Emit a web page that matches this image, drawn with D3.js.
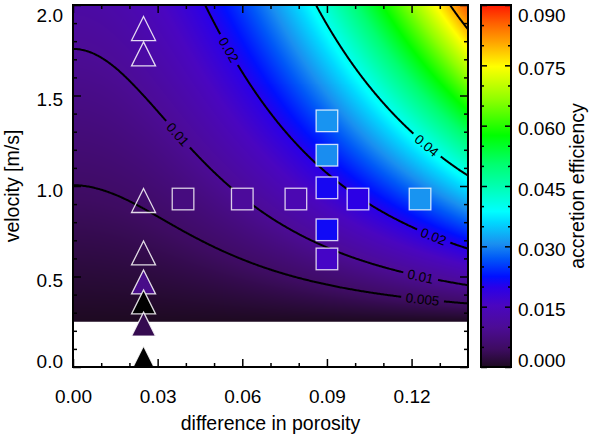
<!DOCTYPE html>
<html><head><meta charset="utf-8">
<script src="https://cdn.jsdelivr.net/npm/d3@7"></script>
<style>
body{margin:0;background:#fff}
svg{display:block}
text{font-family:"Liberation Sans",Arial,Helvetica,sans-serif;fill:#000}
</style>
</head><body>
<svg id="chart" width="598" height="439"></svg>
<script>
// ---------------- data ----------------
const porosityGrid = [0,0.01,0.02,0.03,0.04,0.05,0.06,0.07,0.08,0.09,0.10,0.11,0.12,0.13,0.14];
const velocityGrid = [0.25,0.5,0.75,1.0,1.25,1.5,1.75,2.0];
const effV025 = [0,0,0,0,0,0,0,0,0,0,0,0,0,0,0];
const effV050 = [0.00166,0.00171,0.00188,0.00215,0.00253,0.00303,0.00363,0.00434,0.00516,0.00609,0.00713,0.00828,0.00954,0.0109,0.01238];
const effV075 = [0.00332,0.00343,0.00375,0.00430,0.00507,0.00605,0.00725,0.00868,0.01032,0.01218,0.01426,0.01655,0.01907,0.02180,0.02476];
const effV100 = [0.00497,0.00514,0.00563,0.00645,0.00760,0.00908,0.01088,0.01302,0.01548,0.01827,0.02138,0.02483,0.02860,0.03271,0.03714];
const effV125 = [0.00663,0.00685,0.00751,0.00860,0.01013,0.01210,0.01451,0.01736,0.02064,0.02436,0.02851,0.03311,0.03814,0.04361,0.04952];
const effV150 = [0.00829,0.00856,0.00939,0.01075,0.01267,0.01513,0.01814,0.02169,0.02580,0.03044,0.03564,0.04138,0.04767,0.05451,0.06190];
const effV175 = [0.00995,0.01028,0.01126,0.01291,0.01520,0.01815,0.02176,0.02603,0.03095,0.03653,0.04277,0.04966,0.05721,0.06541,0.07427];
const effV200 = [0.01161,0.01199,0.01314,0.01506,0.01773,0.02118,0.02539,0.03037,0.03611,0.04262,0.04990,0.05793,0.06674,0.07631,0.08665];

const contourLevels = [0.005,0.01,0.02,0.04,0.08];
const contourLabelText = ["0.02","0.01","0.04","0.02","0.01","0.005"];
const contourLabelLevel = [0.02,0.01,0.04,0.02,0.01,0.005];
const contourLabelX = [0.056,0.0375,0.1257,0.128,0.1232,0.1239];
const contourLabelV = [1.76,1.29,1.23,0.73,0.50,0.376];

// triangles (experiments at porosity difference 0.025)
// triKind: "open" = outline only, "black" = no accretion, "fill" = coloured by efficiency
const triX = [0.025,0.025,0.025,0.025,0.025,0.025,0.025,0.025];
const triV = [1.87,1.73,0.92,0.63,0.47,0.36,0.237,0.05];
const triKind = ["open","open","open","open","fill","black","fill","black"];
const triEff = [0,0,0,0,0.0085,0,0.0032,0];
// squares
const sqX = [0.039,0.06,0.079,0.101,0.123,0.09,0.09,0.09,0.09,0.09];
const sqV = [0.928,0.928,0.928,0.928,0.928,1.36,1.17,0.99,0.758,0.597];
const sqEff = [0.0075,0.0105,0.0135,0.0195,0.031,0.031,0.0305,0.021,0.0215,0.016];

const xMajor = [0,0.03,0.06,0.09,0.12];
const xMinor = [0.01,0.02,0.04,0.05,0.07,0.08,0.10,0.11,0.13];
const yMajor = [0,0.5,1.0,1.5,2.0];
const yMinor = [0.1,0.2,0.3,0.4,0.6,0.7,0.8,0.9,1.1,1.2,1.3,1.4,1.6,1.7,1.8,1.9];
const cbMajor = [0,0.015,0.03,0.045,0.06,0.075,0.09];
const cbMinor = [0.005,0.01,0.02,0.025,0.035,0.04,0.05,0.055,0.065,0.07,0.08,0.085];

const cbStopValues = [0,0.0045,0.0099,0.0153,0.0198,0.0225,0.027,0.0306,0.036,0.0387,0.045,0.0504,0.0576,0.0666,0.0747,0.081,0.0855,0.09];
const cbStopColors = ["#1e0a22","#3e0c62","#4c0c96","#4a06c0","#2a00e8","#0010ff","#0058f8","#1a8ff0","#00d8ff","#00ffff","#00ffb0","#00ff70","#00ff00","#90ff00","#ffff00","#ffa000","#ff6000","#ff1800"];

// ---------------- setup ----------------
const effRows = [effV025,effV050,effV075,effV100,effV125,effV150,effV175,effV200];
const svg = d3.select("#chart");
const PL=73, PR=468, PT=5, PB=367;
const x = d3.scaleLinear().domain([0,0.14]).range([PL,PR]);
const y = d3.scaleLinear().domain([0,2]).range([PB,PT]);
const cb = d3.scaleLinear().domain([0,0.09]).range([PB,PT]);
const color = d3.scaleLinear().domain(cbStopValues).range(cbStopColors).clamp(true);

function cr(p0,p1,p2,p3,t){return 0.5*((2*p1)+(-p0+p2)*t+(2*p0-5*p1+4*p2-p3)*t*t+(-p0+3*p1-3*p2+p3)*t*t*t);}
function rowAt(row,xv){
  const n=row.length, dx=porosityGrid[1]-porosityGrid[0];
  let u=(xv-porosityGrid[0])/dx; u=Math.max(0,Math.min(n-1,u));
  const j=Math.min(n-2,Math.floor(u)), t=u-j;
  const g=k=> k<0 ? row[-k] : (k>n-1 ? 2*row[n-1]-row[n-2] : row[k]);
  return cr(g(j-1),g(j),g(j+1),g(j+2),t);
}
function field(xv,vv){
  const m=velocityGrid.length, dv=velocityGrid[1]-velocityGrid[0];
  let u=(vv-velocityGrid[0])/dv; u=Math.max(0,Math.min(m-1,u));
  const i=Math.min(m-2,Math.floor(u)), t=u-i;
  return (1-t)*rowAt(effRows[i],xv)+t*rowAt(effRows[i+1],xv);
}

const defs = svg.append("defs");
defs.append("clipPath").attr("id","plotclip").append("rect")
  .attr("x",PL).attr("y",PT).attr("width",PR-PL).attr("height",PB-PT);

// ---------------- heat map ----------------
const yTopMap = PT, yBotMap = y(velocityGrid[0]);
const cw = PR-PL, ch = Math.round(yBotMap-yTopMap);
const canvas = document.createElement("canvas");
canvas.width=cw; canvas.height=ch;
const ctx = canvas.getContext("2d");
const img = ctx.createImageData(cw,ch);
for(let j=0;j<ch;j++){
  const vv=y.invert(yTopMap+j+0.5);
  for(let i=0;i<cw;i++){
    const xv=x.invert(PL+i+0.5);
    const c=d3.rgb(color(field(xv,vv)));
    const k=(j*cw+i)*4;
    img.data[k]=c.r; img.data[k+1]=c.g; img.data[k+2]=c.b; img.data[k+3]=255;
  }
}
ctx.putImageData(img,0,0);
svg.append("image").attr("x",PL).attr("y",yTopMap).attr("width",cw).attr("height",yBotMap-yTopMap)
  .attr("preserveAspectRatio","none").attr("href",canvas.toDataURL());

// ---------------- contours ----------------
const nx=360, ny=360, gx0=-0.004, gx1=0.144, gv0=2.04, gv1=0.2;
const vals=new Float64Array(nx*ny);
for(let j=0;j<ny;j++){
  const vv=gv0+(gv1-gv0)*j/(ny-1);
  for(let i=0;i<nx;i++){
    vals[j*nx+i]=field(gx0+(gx1-gx0)*i/(nx-1),vv);
  }
}
const cons = d3.contours().size([nx,ny]).thresholds(contourLevels)(vals);
const proj = d3.geoTransform({point(px,py){
  this.stream.point(x(gx0+(gx1-gx0)*(px-0.5)/(nx-1)), y(gv0+(gv1-gv0)*(py-0.5)/(ny-1)));
}});
const cpath = d3.geoPath(proj);

// label placement: snap the read position onto its contour, align with the line
function fpix(px,py){return field(x.invert(px),y.invert(py));}
const labels = contourLabelText.map((t,k)=>{
  let px=x(contourLabelX[k]), py=y(contourLabelV[k]);
  const lev=contourLabelLevel[k];
  let gx=0, gy=0;
  for(let it=0;it<8;it++){
    const f=fpix(px,py)-lev;
    gx=(fpix(px+0.5,py)-fpix(px-0.5,py));
    gy=(fpix(px,py+0.5)-fpix(px,py-0.5));
    const g2=gx*gx+gy*gy; if(g2===0)break;
    px-=f*gx/g2; py-=f*gy/g2;
  }
  let ang=Math.atan2(gx,-gy)*180/Math.PI;
  if(ang>90)ang-=180; if(ang<-90)ang+=180;
  return {text:t,px,py,ang};
});

const mask = defs.append("mask").attr("id","lblmask").attr("maskUnits","userSpaceOnUse")
  .attr("x",0).attr("y",0).attr("width",598).attr("height",439);
mask.append("rect").attr("x",0).attr("y",0).attr("width",598).attr("height",439).attr("fill","#fff");
labels.forEach(l=>{
  const w=l.text.length*7.4+6;
  mask.append("rect").attr("x",-w/2).attr("y",-7).attr("width",w).attr("height",14)
    .attr("fill","#000").attr("transform",`translate(${l.px},${l.py}) rotate(${l.ang})`);
});

svg.append("g").attr("clip-path","url(#plotclip)")
  .append("g").attr("mask","url(#lblmask)")
  .selectAll("path").data(cons).join("path")
  .attr("d",cpath).attr("fill","none").attr("stroke","#000").attr("stroke-width",2);

svg.append("g").selectAll("text").data(labels).join("text")
  .attr("transform",d=>`translate(${d.px},${d.py}) rotate(${d.ang})`)
  .attr("text-anchor","middle").attr("dy","0.36em")
  .style("font-size","13.5px").text(d=>d.text);

// ---------------- markers ----------------
const mk = svg.append("g").attr("clip-path","url(#plotclip)");
const T=12;
mk.selectAll("path.tri").data(triV.map((v,i)=>({x:triX[i],v,e:triEff[i],kind:triKind[i]}))).join("path")
  .attr("class","tri")
  .attr("d",d=>{const cx=x(d.x), cy=y(d.v);return `M${cx},${cy-T}L${cx+T},${cy+T}L${cx-T},${cy+T}Z`;})
  .attr("fill",d=>d.kind==="open"?"none":(d.kind==="black"?"#000":color(d.e)))
  .attr("stroke","rgba(255,255,255,0.85)").attr("stroke-width",1.3);
const S=10.8;
mk.selectAll("rect.sq").data(sqV.map((v,i)=>({x:sqX[i],v,e:sqEff[i]}))).join("rect")
  .attr("class","sq")
  .attr("x",d=>x(d.x)-S).attr("y",d=>y(d.v)-S).attr("width",2*S).attr("height",2*S)
  .attr("fill",d=>color(d.e))
  .attr("stroke","rgba(255,255,255,0.8)").attr("stroke-width",1.3);

// ---------------- axes ----------------
function styleAxis(g){g.select(".domain").remove();g.selectAll("line").attr("stroke","#000").attr("stroke-width",1.5);g.selectAll("text").style("font-size","19px").attr("fill","#000").attr("font-family",null);}
svg.append("g").attr("transform",`translate(0,${PB})`)
  .call(d3.axisBottom(x).tickValues(xMajor).tickSize(-8).tickPadding(23).tickFormat(d3.format(".2f"))).call(styleAxis);
svg.append("g").attr("transform",`translate(0,${PB})`)
  .call(d3.axisBottom(x).tickValues(xMinor).tickSize(-4).tickFormat("")).call(styleAxis);
svg.append("g").attr("transform",`translate(0,${PT})`)
  .call(d3.axisTop(x).tickValues(xMajor).tickSize(-8).tickFormat("")).call(styleAxis);
svg.append("g").attr("transform",`translate(0,${PT})`)
  .call(d3.axisTop(x).tickValues(xMinor).tickSize(-4).tickFormat("")).call(styleAxis);

const yOff = v => v===2 ? 10 : (v===0 ? -6 : 4);
svg.append("g").attr("transform",`translate(${PL},0)`)
  .call(d3.axisLeft(y).tickValues(yMajor).tickSize(-8).tickPadding(10).tickFormat(d3.format(".1f"))).call(styleAxis)
  .call(g=>g.selectAll("text").attr("y",d=>yOff(d)));
svg.append("g").attr("transform",`translate(${PL},0)`)
  .call(d3.axisLeft(y).tickValues(yMinor).tickSize(-4).tickFormat("")).call(styleAxis);
svg.append("g").attr("transform",`translate(${PR},0)`)
  .call(d3.axisRight(y).tickValues(yMajor).tickSize(-8).tickFormat("")).call(styleAxis);
svg.append("g").attr("transform",`translate(${PR},0)`)
  .call(d3.axisRight(y).tickValues(yMinor).tickSize(-4).tickFormat("")).call(styleAxis);

svg.append("rect").attr("x",PL).attr("y",PT).attr("width",PR-PL).attr("height",PB-PT)
  .attr("fill","none").attr("stroke","#000").attr("stroke-width",2);

svg.append("text").attr("x",(PL+PR)/2).attr("y",430).attr("text-anchor","middle")
  .style("font-size","19.5px").text("difference in porosity");
svg.append("text").attr("transform",`translate(19,${(PT+PB)/2}) rotate(-90)`).attr("text-anchor","middle")
  .style("font-size","19.5px").text("velocity [m/s]");

// ---------------- colour bar ----------------
const CBL=481, CBR=511;
const grad = defs.append("linearGradient").attr("id","cbgrad").attr("x1",0).attr("y1",1).attr("x2",0).attr("y2",0);
cbStopValues.forEach((v,i)=>grad.append("stop").attr("offset",v/0.09).attr("stop-color",cbStopColors[i]));
svg.append("rect").attr("x",CBL).attr("y",PT).attr("width",CBR-CBL).attr("height",PB-PT).attr("fill","url(#cbgrad)");
const cbOff = v => v===0.09 ? 10 : (v===0 ? -7 : 3);
svg.append("g").attr("transform",`translate(${CBR},0)`)
  .call(d3.axisRight(cb).tickValues(cbMajor).tickSize(-6).tickPadding(7).tickFormat(d3.format(".3f"))).call(styleAxis)
  .call(g=>g.selectAll("text").attr("y",d=>cbOff(d)));
svg.append("g").attr("transform",`translate(${CBR},0)`)
  .call(d3.axisRight(cb).tickValues(cbMinor).tickSize(-3).tickFormat("")).call(styleAxis);
svg.append("g").attr("transform",`translate(${CBL},0)`)
  .call(d3.axisLeft(cb).tickValues(cbMajor).tickSize(-6).tickFormat("")).call(styleAxis);
svg.append("g").attr("transform",`translate(${CBL},0)`)
  .call(d3.axisLeft(cb).tickValues(cbMinor).tickSize(-3).tickFormat("")).call(styleAxis);
svg.append("rect").attr("x",CBL).attr("y",PT).attr("width",CBR-CBL).attr("height",PB-PT)
  .attr("fill","none").attr("stroke","#000").attr("stroke-width",2);
svg.append("text").attr("transform",`translate(584,${(PT+PB)/2}) rotate(-90)`).attr("text-anchor","middle")
  .style("font-size","19.5px").text("accretion efficiency");
</script>
</body></html>
